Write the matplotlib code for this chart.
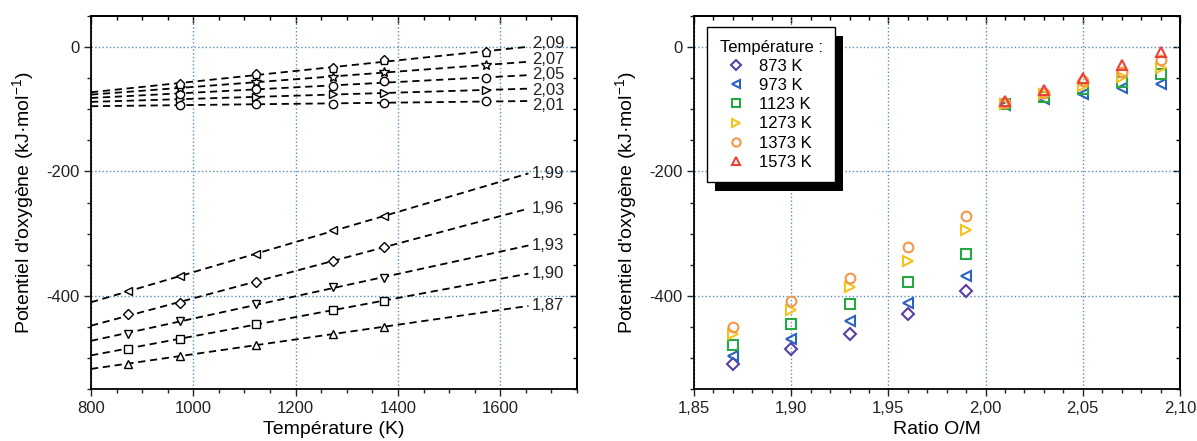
import numpy as np
import matplotlib
matplotlib.use("Agg")
import matplotlib.pyplot as plt
from matplotlib.patches import Rectangle
from matplotlib.ticker import MultipleLocator, FuncFormatter

plt.rcParams["font.family"] = ["Liberation Sans", "DejaVu Sans"]
plt.rcParams["mathtext.fontset"] = "custom"
plt.rcParams["mathtext.rm"] = "Liberation Sans"
plt.rcParams["axes.unicode_minus"] = False

nan = np.nan

# Températures (K) et rapports O/M
temperatures = [873, 973, 1123, 1273, 1373, 1573]
ratios = [1.87, 1.90, 1.93, 1.96, 1.99, 2.01, 2.03, 2.05, 2.07, 2.09]

# Potentiel d'oxygène (kJ/mol), une liste par rapport O/M, colonnes = températures
mu_187 = [-509, -497, -480, -461, -450, nan]
mu_190 = [-485, -469, -446, -423, -408, nan]
mu_193 = [-461, -441, -413, -386, -372, nan]
mu_196 = [-430, -412, -378, -344, -321, nan]
mu_199 = [-393, -368, -333, -295, -272, nan]
mu_201 = [nan, -93, -92, -91, -90, -87]
mu_203 = [nan, -84, -80, -76, -74, -69]
mu_205 = [nan, -75, -68, -62, -55, -50]
mu_207 = [nan, -66, -56, -48, -40, -29]
mu_209 = [nan, -59, -44, -33, -21, -8]

ratio_markers = ["^", "s", "v", "D", "<", "o", ">", "o", "*", "p"]
temp_markers = ["D", "<", "s", ">", "o", "^"]
temp_colors = ["#5b3fa6", "#2a62c4", "#27a844", "#f4c21c", "#f3984a", "#ea4438"]

mu = np.array([mu_187, mu_190, mu_193, mu_196, mu_199,
               mu_201, mu_203, mu_205, mu_207, mu_209], dtype=float)
T = np.array(temperatures, dtype=float)

GRID_COLOR = "#5a8fb8"
MS = {"D": 5, "*": 7.5, "p": 6.5}


def comma(x, pos):
    return f"{x:.2f}".replace(".", ",")


def style_axes(ax, xmaj, xmin):
    ax.xaxis.set_major_locator(MultipleLocator(xmaj))
    ax.xaxis.set_minor_locator(MultipleLocator(xmin))
    ax.yaxis.set_major_locator(MultipleLocator(200))
    ax.yaxis.set_minor_locator(MultipleLocator(50))
    ax.tick_params(which="both", direction="out", width=1.0, labelsize=12,
                   top=False, right=False, colors="#222222")
    ax.tick_params(which="major", length=5)
    ax.tick_params(which="minor", length=3)
    for sp in ax.spines.values():
        sp.set_linewidth(1.3)
    ax.grid(True, which="major", ls=":", color=GRID_COLOR, lw=1.0)
    ax.set_axisbelow(True)

    top = ax.secondary_xaxis("top")
    top.xaxis.set_major_locator(MultipleLocator(xmaj))
    top.xaxis.set_minor_locator(MultipleLocator(xmin))
    top.tick_params(which="both", direction="in", width=1.0, labeltop=False)
    top.tick_params(which="major", length=5)
    top.tick_params(which="minor", length=3)
    top.spines["top"].set_linewidth(1.3)

    right = ax.secondary_yaxis("right")
    right.yaxis.set_major_locator(MultipleLocator(200))
    right.yaxis.set_minor_locator(MultipleLocator(50))
    right.tick_params(which="both", direction="in", width=1.0, labelright=False)
    right.tick_params(which="major", length=5)
    right.tick_params(which="minor", length=3)
    right.spines["right"].set_linewidth(1.3)


def spread(values, gap):
    # écarte les étiquettes trop proches en gardant leur moyenne
    v = np.array(values, dtype=float)
    order = np.argsort(v)
    s = v[order].copy()
    for k in range(1, len(s)):
        s[k] = max(s[k], s[k - 1] + gap)
    s += v.mean() - s.mean()
    out = np.empty_like(s)
    out[order] = s
    return out


fig = plt.figure(figsize=(11.97, 4.41), dpi=100)
W, H = 1197, 441
ax1 = fig.add_axes([91 / W, 52 / H, 486 / W, 373 / H])
ax2 = fig.add_axes([694 / W, 52 / H, 486 / W, 373 / H])

ylabel = r"Potentiel d'oxygène (kJ·mol$^{\mathregular{-1}}$)"

# --- Panneau gauche : potentiel vs température ---
x_fit = np.array([800.0, 1655.0])
ends = []
for i, r in enumerate(ratios):
    y = mu[i]
    ok = ~np.isnan(y)
    a, b = np.polyfit(T[ok], y[ok], 1)
    ax1.plot(x_fit, a * x_fit + b, ls=(0, (4, 2.6)), color="k", lw=1.3, zorder=2)
    ax1.plot(T[ok], y[ok], ls="none", marker=ratio_markers[i],
             ms=MS.get(ratio_markers[i], 6),
             mfc="white", mec="k", mew=1.0, zorder=3)
    ends.append(a * x_fit[1] + b)

ends = np.array(ends)
label_y = np.concatenate([spread(ends[:5], 25), spread(ends[5:], 25)])
for r, ly in zip(ratios, label_y):
    ax1.text(1662, ly, f"{r:.2f}".replace(".", ","), fontsize=12,
             va="center", ha="left", color="#222222", zorder=4)

ax1.set_xlim(800, 1750)
ax1.set_ylim(-550, 50)
style_axes(ax1, 200, 50)
ax1.set_xlabel("Température (K)", fontsize=14, labelpad=4)
ax1.set_ylabel(ylabel, fontsize=14, labelpad=6)

# --- Panneau droit : potentiel vs rapport O/M ---
for j, t in enumerate(temperatures):
    ax2.plot(ratios, mu[:, j], ls="none", marker=temp_markers[j],
             ms=6 if temp_markers[j] == "D" else 7,
             mfc="none", mec=temp_colors[j], mew=1.5, label=f"{t} K", zorder=3)

ax2.set_xlim(1.85, 2.10)
ax2.set_ylim(-550, 50)
style_axes(ax2, 0.05, 0.01)
ax2.xaxis.set_major_formatter(FuncFormatter(comma))
ax2.set_xlabel("Ratio O/M", fontsize=14, labelpad=4)
ax2.set_ylabel(ylabel, fontsize=14, labelpad=6)

leg = ax2.legend(title="Température :", loc="upper left",
                 bbox_to_anchor=(0.027, 0.97), borderaxespad=0,
                 fancybox=False, edgecolor="k", framealpha=1,
                 fontsize=12, title_fontsize=12, labelspacing=0.25,
                 handletextpad=0.35, handlelength=2.0, borderpad=0.75,
                 markerscale=0.85, alignment="left")
leg.get_frame().set_linewidth(1.0)
leg.set_zorder(5)

# ombre portée noire du cadre de légende
fig.canvas.draw()
bb = leg.get_window_extent()
ax2.add_patch(Rectangle((bb.x0 + 8, bb.y0 - 9), bb.width, bb.height,
                        transform=None, facecolor="k", edgecolor="none",
                        zorder=4.9, clip_on=False))

fig.savefig("out.png", dpi=100)
plt.close(fig)
